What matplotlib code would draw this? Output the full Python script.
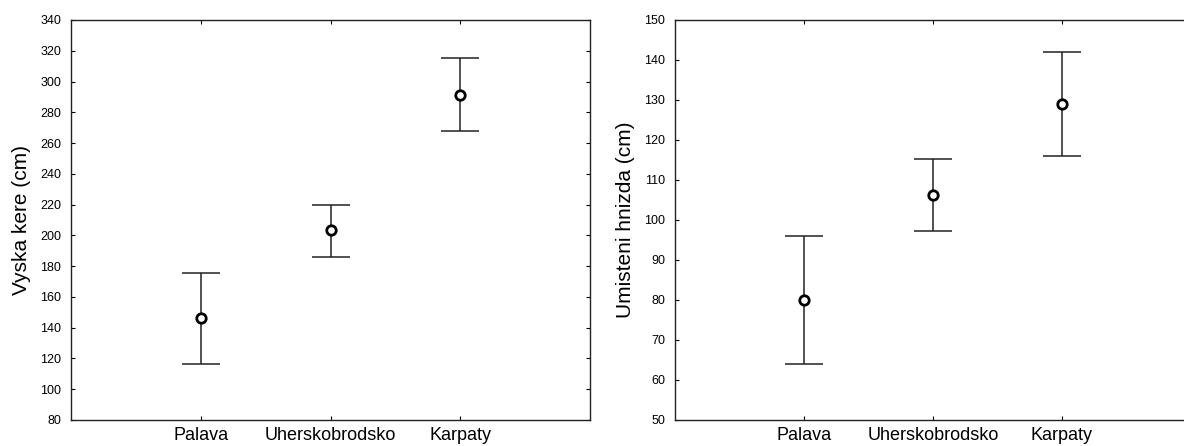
import matplotlib
matplotlib.use("Agg")
import matplotlib.pyplot as plt
import numpy as np

plt.rcParams['font.family'] = ['Liberation Sans', 'DejaVu Sans']

categories = ["Palava", "Uherskobrodsko", "Karpaty"]

# Shrub height (cm): mean and interval bounds
height_mean = [146.1, 203.6, 291.3]
height_low = [116.3, 186.0, 267.6]
height_high = [175.7, 219.7, 315.4]

# Nest placement (cm): mean and interval bounds
nest_mean = [80.0, 106.3, 129.1]
nest_low = [63.9, 97.2, 116.1]
nest_high = [95.9, 115.3, 141.9]

W, H = 1184, 446
fig = plt.figure(figsize=(W / 100, H / 100), dpi=100)

ax1 = fig.add_axes([71 / W, 26 / H, 519 / W, 400 / H])
ax2 = fig.add_axes([675 / W, 26 / H, 516 / W, 400 / H])


def draw_panel(ax, mean, low, high, ylim, yticks, ylabel):
    x = np.arange(1, len(categories) + 1)
    mean = np.asarray(mean)
    yerr = np.vstack([mean - np.asarray(low), np.asarray(high) - mean])
    ax.errorbar(x, mean, yerr=yerr, fmt='none', ecolor='#222222',
                elinewidth=1.1, capsize=13.7, capthick=1.1, zorder=2)
    ax.plot(x, mean, linestyle='none', marker='o', markersize=6.8,
            markerfacecolor='white', markeredgecolor='black',
            markeredgewidth=2.0, zorder=3)
    ax.set_xlim(0, 4)
    ax.set_ylim(*ylim)
    ax.set_yticks(yticks)
    ax.set_xticks(x)
    ax.set_xticklabels(categories, fontsize=13)
    ax.tick_params(axis='y', labelsize=9, direction='in', length=3,
                   width=0.8, pad=7, right=True)
    ax.tick_params(axis='x', direction='in', length=3, width=0.8, pad=5,
                   top=True)
    ax.set_ylabel(ylabel, fontsize=15, labelpad=7)
    for s in ax.spines.values():
        s.set_linewidth(1.0)
        s.set_color('#222222')


draw_panel(ax1, height_mean, height_low, height_high, (80, 340),
           np.arange(80, 341, 20), "Vyska kere (cm)")
draw_panel(ax2, nest_mean, nest_low, nest_high, (50, 150),
           np.arange(50, 151, 10), "Umisteni hnizda (cm)")

fig.savefig("out.png", dpi=100)
